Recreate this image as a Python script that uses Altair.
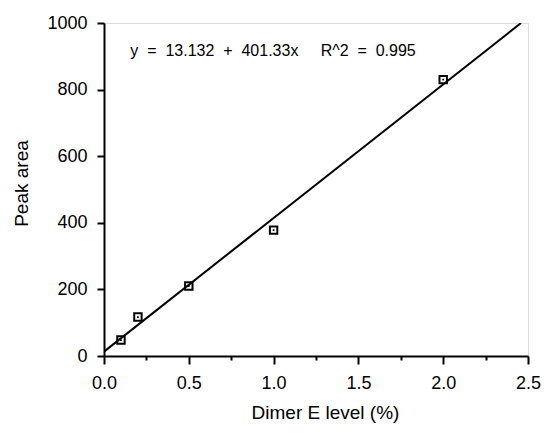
import altair as alt
import pandas as pd

# measured points
dimer_level = [0.1, 0.2, 0.5, 1.0, 2.0]
peak_area = [48, 117, 210, 378, 830]

# regression line (from the printed equation), clipped at the top of the axis
intercept = 13.132
slope = 401.33
line_x = [0.0, (1000 - intercept) / slope]

NB = "\u00a0"
equation = (f"y{NB}{NB}={NB}{NB}13.132{NB}{NB}+{NB}{NB}401.33x"
            f"{NB}{NB}{NB}{NB}{NB}R^2{NB}{NB}={NB}{NB}0.995")
eq_pos_x = [0.155]
eq_pos_y = [916]

x_ticks = [0, 0.25, 0.5, 0.75, 1.0, 1.25, 1.5, 1.75, 2.0, 2.25, 2.5]
y_ticks = [0, 100, 200, 300, 400, 500, 600, 700, 800, 900, 1000]

FONT = "Liberation Sans"

pts = pd.DataFrame({"x": dimer_level, "y": peak_area})
ln = pd.DataFrame({"x": line_x, "y": [intercept + slope * v for v in line_x]})
ann = pd.DataFrame({"x": eq_pos_x, "y": eq_pos_y, "t": [equation]})

xscale = alt.Scale(domain=[0, 2.5], nice=False, zero=False)
yscale = alt.Scale(domain=[0, 1000], nice=False)

xaxis = alt.Axis(
    values=x_ticks,
    labelExpr="datum.value % 0.5 == 0 ? format(datum.value, '.1f') : ''",
    tickSize={"condition": {"test": "datum.value % 0.5 == 0", "value": 8}, "value": 4},
    tickWidth=2, tickColor="black",
    domainWidth=2, domainColor="black",
    labelFont=FONT, labelFontSize=18, labelColor="black", labelPadding=10,
    labelFlush=False, labelOverlap=False,
    grid=False,
    title="Dimer E level (%)",
    titleFont=FONT, titleFontSize=19, titleFontWeight="normal", titleColor="black",
    titleX=221, titleY=56, titleBaseline="middle", titleAlign="center",
)
yaxis = alt.Axis(
    values=y_ticks,
    labelExpr="datum.value % 200 == 0 ? format(datum.value, 'd') : ''",
    tickSize={"condition": {"test": "datum.value % 200 == 0", "value": 7}, "value": 3},
    tickWidth=2, tickColor="black",
    domainWidth=2, domainColor="black",
    labelFont=FONT, labelFontSize=18, labelColor="black", labelPadding=10,
    labelFlush=False, labelOverlap=False,
    grid=False,
    title="Peak area",
    titleFont=FONT, titleFontSize=19, titleFontWeight="normal", titleColor="#000000",
    titleX=-83, titleY=160, titleBaseline="middle", titleAlign="center", titleAngle=-90,
)

line = alt.Chart(ln).mark_line(color="black", strokeWidth=2, clip=True).encode(
    x=alt.X("x:Q", scale=xscale, axis=xaxis),
    y=alt.Y("y:Q", scale=yscale, axis=yaxis),
)

points = alt.Chart(pts).mark_square(
    filled=False, color="black", size=55, strokeWidth=2, opacity=1
).encode(x="x:Q", y="y:Q")

inner = alt.Chart(pts).mark_square(
    filled=True, color="black", size=3, opacity=1
).encode(x="x:Q", y="y:Q")

text = alt.Chart(ann).mark_text(
    align="left", baseline="middle", font=FONT, fontSize=16, color="black"
).encode(x="x:Q", y="y:Q", text="t:N")

chart = alt.layer(line, points, inner, text).properties(
    width=424, height=333,
    autosize=alt.AutoSizeParams(type="none"),
    padding={"left": 96, "top": 15, "right": 13, "bottom": 72},
).configure_view(stroke=None).configure(background="white")

chart.save("out.html", embed_options={"renderer": "svg", "actions": False})
